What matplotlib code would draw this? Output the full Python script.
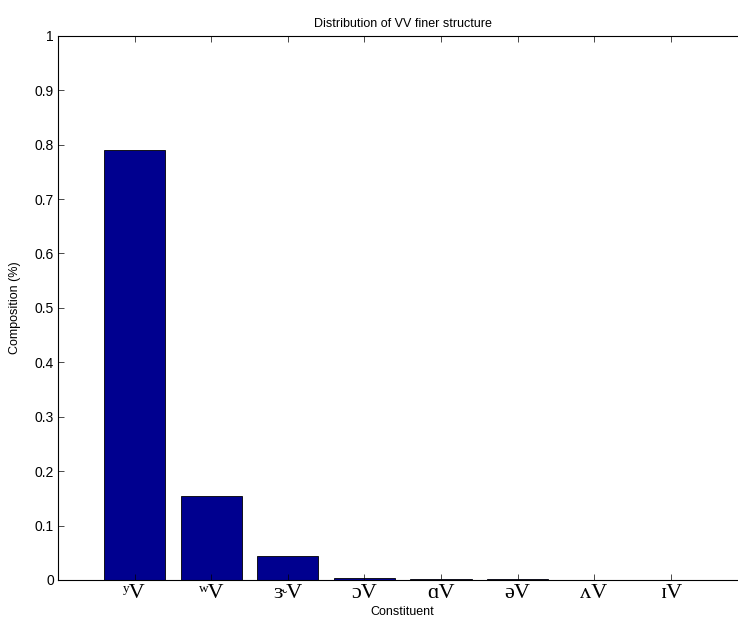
import numpy as np
import matplotlib.pyplot as plt

# values
constituents = ['\u02b8V', '\u02b7V', '\u025dV', '\u0254V', '\u0251V', '\u0259V', '\u028cV', '\u026aV']
composition = [0.791, 0.155, 0.044, 0.004, 0.0025, 0.0025, 0.0008, 0.0005]
yticks = np.arange(0, 1.01, 0.1)
ytick_labels = ['0', '0.1', '0.2', '0.3', '0.4', '0.5', '0.6', '0.7', '0.8', '0.9', '1']

plt.rcParams['font.family'] = ['Liberation Sans', 'DejaVu Sans']

fig = plt.figure(figsize=(7.38, 6.17), dpi=100)
ax = fig.add_axes([0.0786, 0.06, 0.934, 0.882])

x = np.arange(1, len(composition) + 1)
ax.bar(x, composition, width=0.8, color='#00008f', edgecolor='black', linewidth=0.6)

ax.set_xlim(0, 9)
ax.set_ylim(0, 1)
ax.set_xticks(x)
ax.set_xticklabels(constituents, family=['Liberation Serif', 'DejaVu Serif'], fontsize=16)
ax.set_yticks(yticks)
ax.set_yticklabels(ytick_labels, fontsize=10)
ax.tick_params(direction='in', top=True, right=True, length=4, width=0.5, pad=3)
ax.tick_params(axis='x', pad=3)
for s in ax.spines.values():
    s.set_linewidth(0.8)

ax.set_title('Distribution of VV finer structure', fontsize=9, pad=6)
ax.set_ylabel('Composition (%)', fontsize=9, labelpad=10)
ax.set_xlabel('Constituent', fontsize=9)
# reference has the label partly cut off at the bottom edge
ax.xaxis.set_label_coords(0.5, -0.048)

fig.savefig('out.png', dpi=100)
